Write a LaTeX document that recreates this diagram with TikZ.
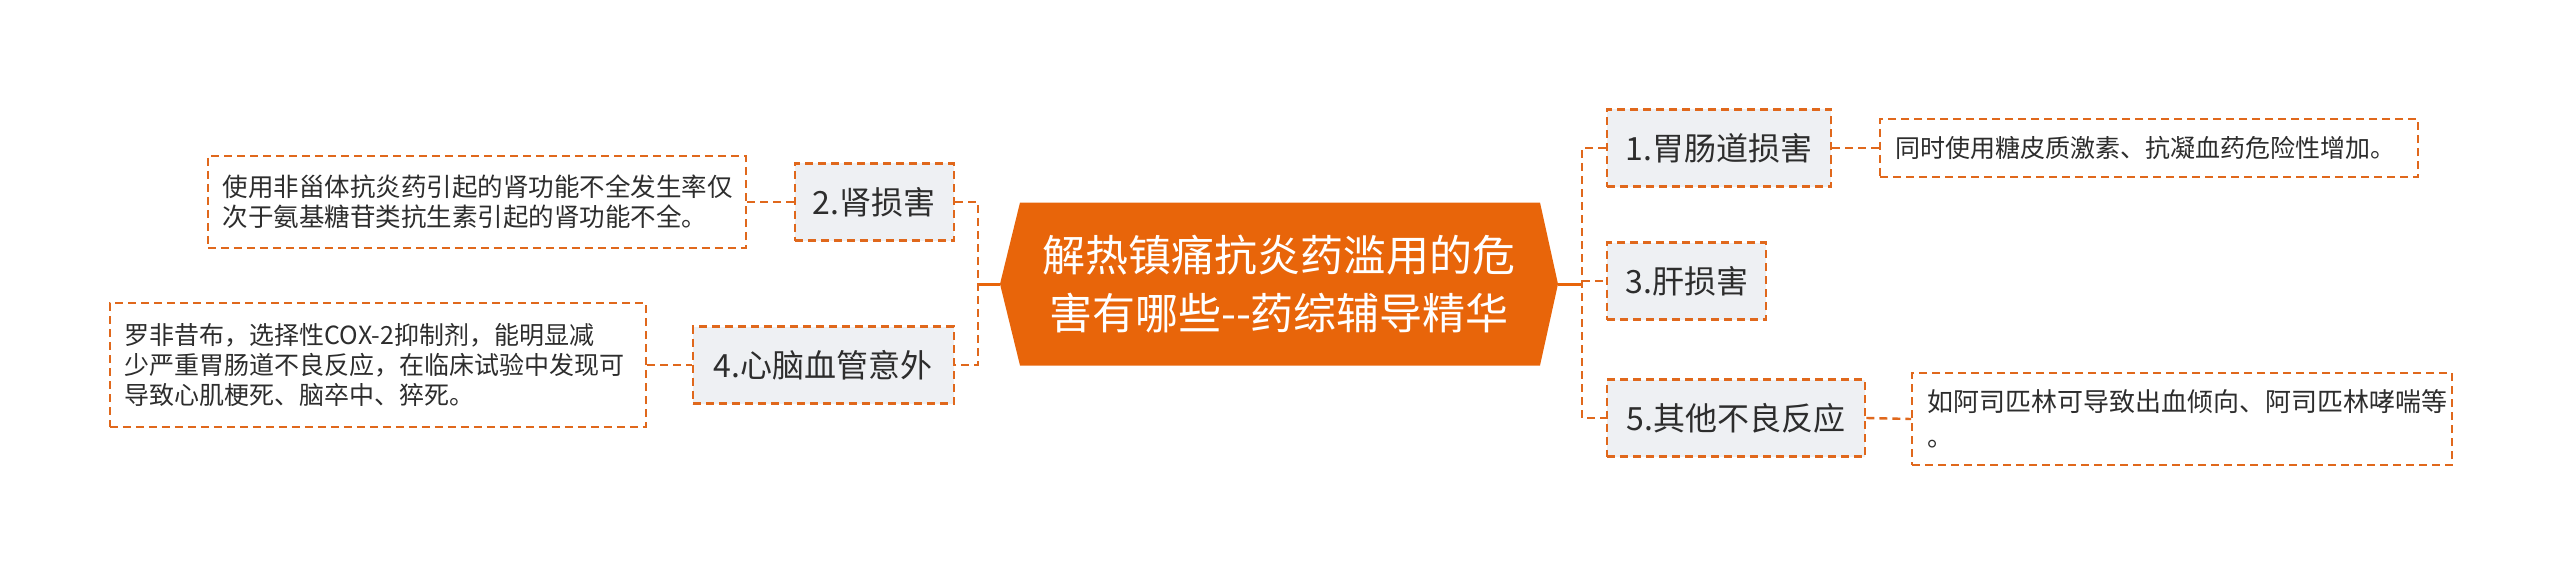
\documentclass[tikz,border=0pt]{standalone}
\usepackage{fontspec}
\setmainfont{Noto Sans CJK SC}
\definecolor{mmorange}{RGB}{232,101,10}
\definecolor{mmline}{RGB}{224,104,28}
\definecolor{mmgray}{RGB}{238,240,243}
\definecolor{mmtext}{RGB}{45,45,45}

\begin{document}
\begin{tikzpicture}[x=1pt, y=-1pt,
  dashline/.style={color=mmline, line width=2.4pt, dash pattern=on 8pt off 5pt},
  rootline/.style={color=mmorange, line width=3pt},
  root/.style={text=white, align=center, inner sep=0pt,
    minimum width=558pt, minimum height=163pt,
    font=\fontsize{43}{58}\selectfont,
    path picture={\fill[mmorange]
      ([xshift=20pt]path picture bounding box.north west)
      -- ([xshift=-18pt]path picture bounding box.north east)
      -- (path picture bounding box.east)
      -- ([xshift=-18pt]path picture bounding box.south east)
      -- ([xshift=20pt]path picture bounding box.south west)
      -- (path picture bounding box.west) -- cycle;}},
  topic/.style={draw=mmline, line width=2.4pt, dash pattern=on 8pt off 5pt,
    fill=mmgray, text=mmtext, inner sep=0pt, minimum height=77pt,
    font=\fontsize{32}{36}\selectfont},
  detail/.style={draw=mmline, line width=2.4pt, dash pattern=on 8pt off 5pt,
    fill=white, text=mmtext, align=left, inner xsep=15pt, inner ysep=0pt,
    font=\fontsize{25}{30}\selectfont}]
  \useasboundingbox (0,0) rectangle (2560,575);

  % centre
  \node[root] (root) at (1279,284) {解热镇痛抗炎药滥用的危\\害有哪些-{}-药综辅导精华};

  % right side
  \node[topic, anchor=west, minimum width=224pt] (b1) at (1606,148) {1.胃肠道损害};
  \node[topic, anchor=west, minimum width=159pt] (b3) at (1606,281) {3.肝损害};
  \node[topic, anchor=west, minimum width=258pt] (b5) at (1606,418) {5.其他不良反应};
  \node[detail, anchor=west, text width=508pt, minimum height=58pt] (t1) at (1879,148)
    {同时使用糖皮质激素、抗凝血药危险性增加。};
  \node[detail, anchor=west, text width=510pt, minimum height=92pt,
    font=\fontsize{26}{35}\selectfont] (t5) at (1911,419)
    {如阿司匹林可导致出血倾向、阿司匹林哮喘等\\。};

  % left side
  \node[topic, anchor=east, minimum width=159pt] (b2) at (955,202) {2.肾损害};
  \node[topic, anchor=east, minimum width=261pt] (b4) at (955,365) {4.心脑血管意外};
  \node[detail, anchor=east, text width=508pt, minimum height=92pt,
    font=\fontsize{25.5}{30}\selectfont] (t2) at (747,202)
    {使用非甾体抗炎药引起的肾功能不全发生率仅\\次于氨基糖苷类抗生素引起的肾功能不全。};
  \node[detail, anchor=east, text width=506pt, minimum height=124pt] (t4) at (647,365)
    {罗非昔布，选择性COX-2抑制剂，能明显减\\少严重胃肠道不良反应，在临床试验中发现可\\导致心肌梗死、脑卒中、猝死。};

  % connectors
  \coordinate (lj) at (978,284);
  \coordinate (rj) at (1582,284);
  \draw[rootline] (root.west) -- (lj);
  \draw[rootline] (root.east) -- (rj);
  \draw[dashline] (b2.east) -- (b2.east -| lj) -- (b4.east -| lj) -- (b4.east);
  \draw[dashline] (b1.west) -- (b1.west -| rj) -- (b5.west -| rj) -- (b5.west);
  \draw[dashline] (b3.west -| rj) -- (b3.west);
  \draw[dashline] (b1.east) -- (t1.west);
  \draw[dashline] (b5.east) -- (t5.west);
  \draw[dashline] (t2.east) -- (b2.west);
  \draw[dashline] (t4.east) -- (b4.west);
\end{tikzpicture}
\end{document}
